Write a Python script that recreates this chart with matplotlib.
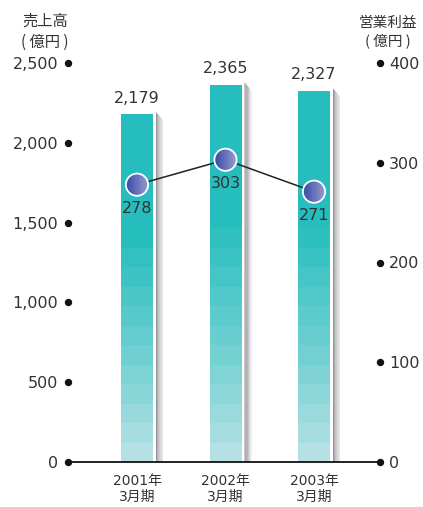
import numpy as np
import matplotlib
matplotlib.use("Agg")
import matplotlib.pyplot as plt
from matplotlib.patches import Circle, Rectangle
from matplotlib.transforms import Affine2D, ScaledTranslation
from matplotlib.colors import to_rgb

# ---------------- data ----------------
periods = ["2001年\n3月期", "2002年\n3月期", "2003年\n3月期"]
sales = [2179, 2365, 2327]            # 売上高（億円）
profit = [278, 303, 271]              # 営業利益（億円）
sales_ticks = [0, 500, 1000, 1500, 2000, 2500]
profit_ticks = [0, 100, 200, 300, 400]
left_title = "売上高\n( 億円 )"
right_title = "営業利益\n( 億円 )"

FAM = ["DejaVu Sans", "Noto Sans CJK JP"]
CJK = ["Noto Sans CJK JP", "DejaVu Sans"]
TXT = "#333333"
plt.rcParams["font.family"] = FAM

W, H = 423, 507
fig = plt.figure(figsize=(W / 100, H / 100), dpi=100)
ax = fig.add_axes([68 / W, 45 / H, 312 / W, 399 / H])
ax2 = ax.twinx()

px_per_unit = 88.5
xl0 = -69 / px_per_unit
ax.set_xlim(xl0, xl0 + 312 / px_per_unit)
ax.set_ylim(0, 2500)
ax2.set_ylim(0, 400)
ax.set_zorder(1)
ax2.set_zorder(2)
ax2.patch.set_visible(False)

x = np.arange(len(sales))
bw = 32 / px_per_unit
top_c = np.array(to_rgb("#25BDBD"))
bot_c = np.array(to_rgb("#B6E1E4"))
band = 122

for xi, v in zip(x, sales):
    edges = list(np.arange(0, v, band)) + [v]
    for b0, b1 in zip(edges[:-1], edges[1:]):
        t = min(1.0, (b0 / v) / 0.62)
        t = t ** 0.9
        c = bot_c + (top_c - bot_c) * t
        ax.bar(xi, b1 - b0, bottom=b0, width=bw, color=c, linewidth=0, zorder=2)
    # side shadow
    sx0 = xi + bw / 2 + 3 / px_per_unit
    sw = 7 / px_per_unit
    n = 6
    shades = np.linspace(0.58, 0.90, n)
    for k in range(n):
        a0 = sx0 + sw * k / n
        a1 = sx0 + sw * (k + 1) / n
        t0 = v + 14 - 50 * k / n
        t1 = v + 14 - 50 * (k + 1) / n
        g = shades[k]
        ax.fill([a0, a1, a1, a0], [0, 0, t1, t0], color=(g, g, min(1, g + 0.02)),
                linewidth=0, zorder=2)
    ax.annotate(f"{v:,}", (xi, v), xytext=(0, 6), textcoords="offset points",
                ha="center", va="bottom", fontsize=11.5, color=TXT, zorder=5)

# profit line + gradient circles
ax2.plot(x, profit, color="#222222", lw=1.1, zorder=3)
dark = np.array(to_rgb("#3A4CA3"))
light = np.array(to_rgb("#9298CF"))
r = 8.0  # points
for xi, p in zip(x, profit):
    T = Affine2D().scale(1 / 72) + fig.dpi_scale_trans + ScaledTranslation(xi, p, ax2.transData)
    circ = Circle((0, 0), r, transform=T, facecolor="none", edgecolor="white", lw=1.3, zorder=6)
    clipc = Circle((0, 0), r, transform=T)
    ns = 14
    for k in range(ns):
        c = dark + (light - dark) * (k / (ns - 1))
        rect = Rectangle((-r + 2 * r * k / ns, -r), 2 * r / ns + 0.05, 2 * r, transform=T,
                         facecolor=c, linewidth=0, zorder=5)
        ax2.add_patch(rect)
        rect.set_clip_path(clipc)
    ax2.add_patch(circ)
    ax2.annotate(f"{p}", (xi, p), xytext=(0, -12), textcoords="offset points",
                 ha="center", va="top", fontsize=11.5, color=TXT, zorder=6)

# axes styling
for a in (ax, ax2):
    for s in a.spines.values():
        s.set_visible(False)
ax.axhline(0, color="#111111", lw=1.3, zorder=4, clip_on=False)

ax.set_yticks(sales_ticks)
ax.set_yticklabels([f"{t:,}" for t in sales_ticks])
ax.tick_params(axis="y", length=0, pad=7, labelsize=11.5, labelcolor=TXT)
ax2.set_yticks(profit_ticks)
ax2.set_yticklabels([str(t) for t in profit_ticks])
ax2.tick_params(axis="y", length=0, pad=6.5, labelsize=11.5, labelcolor=TXT)

ax.plot([0] * len(sales_ticks), sales_ticks, "o", color="#111111", ms=4.3,
        transform=ax.get_yaxis_transform(), clip_on=False, zorder=7)
ax2.plot([1] * len(profit_ticks), profit_ticks, "o", color="#111111", ms=4.3,
         transform=ax2.get_yaxis_transform(), clip_on=False, zorder=7)

ax.set_xticks(x)
ax.set_xticklabels(periods, fontsize=10, color=TXT, linespacing=1.1)
ax.tick_params(axis="x", length=0, pad=9)

fig.text(45 / W, 1 - 32 / H, left_title, ha="center", va="center", fontsize=11,
         color=TXT, linespacing=1.3, family=CJK)
fig.text(388 / W, 1 - 32 / H, right_title, ha="center", va="center", fontsize=10.5,
         color=TXT, linespacing=1.3, family=CJK)

fig.savefig("out.png", dpi=100)
